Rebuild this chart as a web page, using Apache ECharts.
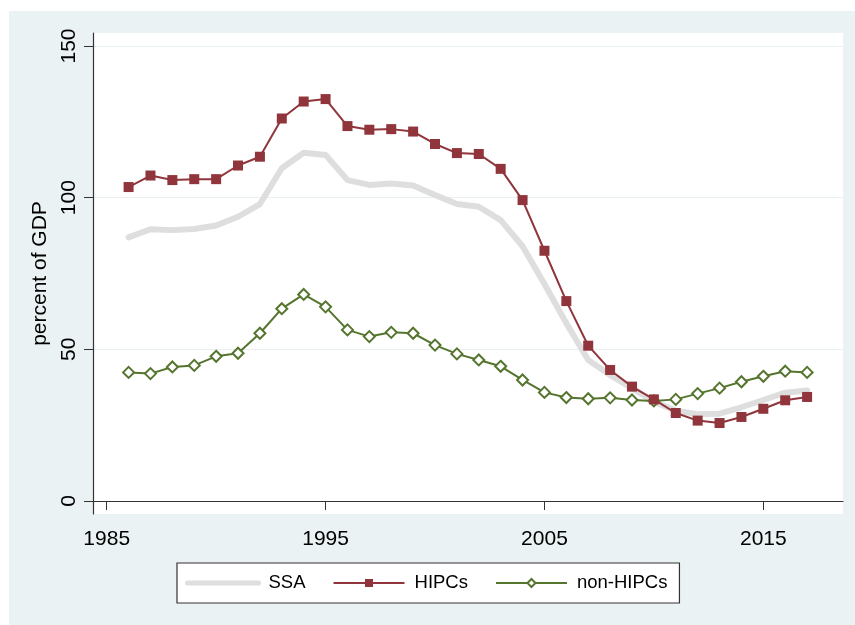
<!DOCTYPE html>
<html>
<head>
<meta charset="utf-8">
<script src="https://cdn.jsdelivr.net/npm/echarts@6/dist/echarts.min.js"></script>
<style>
  html, body { margin: 0; padding: 0; background: #fff; }
  #chart {
    width: 855px;
    height: 625px;
    /* stata-like light bluish graph region, offset from page edge */
    background: linear-gradient(#eaf2f3, #eaf2f3) no-repeat 9px 11px / 846px 614px, #fff;
  }
</style>
</head>
<body>
<div id="chart"></div>
<script>
const years = [1986, 1987, 1988, 1989, 1990, 1991, 1992, 1993, 1994, 1995, 1996,
  1997, 1998, 1999, 2000, 2001, 2002, 2003, 2004, 2005, 2006, 2007, 2008, 2009,
  2010, 2011, 2012, 2013, 2014, 2015, 2016, 2017]

const ssa = [86.9, 89.6, 89.3, 89.7, 90.8, 93.7, 97.9, 109.7, 114.8, 114.1, 105.8,
  104.2, 104.7, 104.0, 100.9, 97.9, 97.0, 92.6, 84.0, 71.5, 58.6, 46.5, 41.5, 37.2,
  32.7, 29.8, 28.6, 28.8, 30.9, 33.3, 35.7, 36.4]

const hipcs = [103.5, 107.3, 105.8, 106.1, 106.1, 110.6, 113.5, 126.1, 131.7, 132.5, 123.6,
  122.4, 122.6, 121.8, 117.7, 114.7, 114.4, 109.5, 99.2, 82.5, 65.9, 51.2, 43.2, 37.7,
  33.5, 29.0, 26.5, 25.7, 27.7, 30.4, 33.2, 34.3]

const nonHipcs = [42.4, 42.0, 44.2, 44.7, 47.7, 48.7, 55.3, 63.4, 68.1, 64.0, 56.4,
  54.2, 55.6, 55.3, 51.4, 48.5, 46.5, 44.4, 39.9, 35.8, 34.1, 33.7, 34.0, 33.3,
  33.0, 33.5, 35.4, 37.2, 39.3, 41.1, 42.8, 42.4]

const xTicks = [1985, 1995, 2005, 2015]
const yTicks = [0, 50, 100, 150]

const FONT = 'Liberation Sans, Arial, sans-serif'

const pairs = vals => years.map((y, i) => [y, vals[i]])

const chart = echarts.init(document.getElementById('chart'))

chart.setOption({
  animation: false,
  textStyle: { fontFamily: FONT },
  grid: {
    left: 93,
    right: 12,
    top: 33,
    bottom: 111,
    show: true,
    backgroundColor: '#fff',
    borderWidth: 0
  },
  legend: {
    left: 177,
    top: 563,
    padding: [9, 12, 9, 8],
    itemWidth: 71,
    itemHeight: 10,
    itemGap: 27,
    backgroundColor: '#fff',
    borderColor: '#333',
    borderWidth: 1.2,
    borderRadius: 0,
    textStyle: {
      fontFamily: FONT,
      fontSize: 18.5,
      color: '#000',
      padding: [0, 0, 0, 5],
      lineHeight: 22
    },
    data: [
      // no marker on the SSA key, just the thick grey band
      { name: 'SSA', itemStyle: { opacity: 0 }, lineStyle: { width: 5, color: '#dedede' } },
      { name: 'HIPCs' },
      { name: 'non-HIPCs' }
    ]
  },
  xAxis: {
    type: 'value',
    min: 1984.374,
    max: 2018.64,
    axisLine: { lineStyle: { color: '#333', width: 1.2 } },
    axisTick: { length: 9, lineStyle: { color: '#333' }, customValues: xTicks },
    axisLabel: {
      customValues: xTicks,
      formatter: v => String(v),
      margin: 15,
      fontSize: 21,
      color: '#000',
      fontFamily: FONT
    },
    splitLine: { show: false }
  },
  yAxis: {
    type: 'value',
    min: -4.29,
    max: 154.29,
    name: 'percent of GDP',
    nameLocation: 'middle',
    nameGap: 40,
    nameTextStyle: { fontSize: 21, color: '#000', fontFamily: FONT },
    axisLine: { show: true, lineStyle: { color: '#333', width: 1.2 } },
    axisTick: { show: true, length: 9, lineStyle: { color: '#333' }, customValues: yTicks },
    axisLabel: {
      customValues: yTicks,
      rotate: 90,
      margin: 13,
      fontSize: 21,
      color: '#000',
      fontFamily: FONT
    },
    splitLine: { show: true, lineStyle: { color: '#e8f0f2', width: 1.2 } }
  },
  series: [
    {
      name: 'SSA',
      type: 'line',
      data: pairs(ssa),
      symbol: 'none',
      z: 1,
      lineStyle: { color: '#dedede', width: 6, join: 'round', cap: 'round' },
      itemStyle: { color: '#dedede' }
    },
    {
      name: 'HIPCs',
      type: 'line',
      data: pairs(hipcs),
      symbol: 'rect',
      symbolSize: 10,
      z: 3,
      lineStyle: { color: '#90353b', width: 2 },
      itemStyle: { color: '#90353b' }
    },
    {
      name: 'non-HIPCs',
      type: 'line',
      data: pairs(nonHipcs),
      symbol: 'diamond',
      symbolSize: 11,
      z: 2,
      lineStyle: { color: '#55752f', width: 2 },
      itemStyle: { color: '#fff', borderColor: '#55752f', borderWidth: 2 }
    }
  ]
})
</script>
</body>
</html>
